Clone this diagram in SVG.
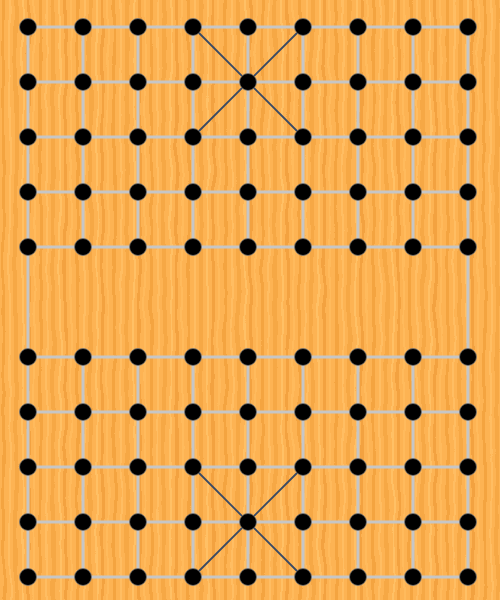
<svg xmlns="http://www.w3.org/2000/svg" width="500" height="600" viewBox="0 0 500 600">
<defs>
<pattern id="wood" patternUnits="userSpaceOnUse" width="37" height="600">
<rect width="37" height="600" fill="#FDB353"/>
<rect x="2" width="3" height="600" fill="#F4A441"/>
<rect x="9" width="2" height="600" fill="#FFBD62"/>
<rect x="14" width="4" height="600" fill="#F6A845"/>
<rect x="22" width="2" height="600" fill="#FFC065"/>
<rect x="27" width="3" height="600" fill="#F3A23F"/>
<rect x="33" width="2" height="600" fill="#FFBA5C"/>
</pattern>
<filter id="grain" x="0" y="0" width="1" height="1">
<feTurbulence type="fractalNoise" baseFrequency="0.04 0.025" numOctaves="2" seed="3" result="n"/>
<feDisplacementMap in="SourceGraphic" in2="n" scale="6" xChannelSelector="R" yChannelSelector="G"/>
</filter>
<style>
.g{stroke:#C6C6C6;stroke-width:3;fill:none;stroke-linecap:square}
.d{stroke:#3A4A64;stroke-width:1.8;fill:none}
.p{fill:#000;stroke:#7A7A7A;stroke-width:0.8}
</style>
</defs>
<rect x="-10" y="-10" width="520" height="620" fill="url(#wood)" filter="url(#grain)"/>
<g id="connectors">
<path class="g" d="M28 27H468M28 82H468M28 137H468M28 192H468M28 247H468M28 357H468M28 412H468M28 467H468M28 522H468M28 577H468"/>
<path class="g" d="M28 27V577M468 27V577M83 27V247M138 27V247M193 27V247M248 27V247M303 27V247M358 27V247M413 27V247M83 357V577M138 357V577M193 357V577M248 357V577M303 357V577M358 357V577M413 357V577"/>
<path class="d" d="M193 27L303 137M303 27L193 137M193 467L303 577M303 467L193 577"/>
</g>
<g id="nodes">
<g id="n0_0"><circle class="p" cx="28" cy="27" r="8.5"/></g>
<g id="n1_0"><circle class="p" cx="83" cy="27" r="8.5"/></g>
<g id="n2_0"><circle class="p" cx="138" cy="27" r="8.5"/></g>
<g id="n3_0"><circle class="p" cx="193" cy="27" r="8.5"/></g>
<g id="n4_0"><circle class="p" cx="248" cy="27" r="8.5"/></g>
<g id="n5_0"><circle class="p" cx="303" cy="27" r="8.5"/></g>
<g id="n6_0"><circle class="p" cx="358" cy="27" r="8.5"/></g>
<g id="n7_0"><circle class="p" cx="413" cy="27" r="8.5"/></g>
<g id="n8_0"><circle class="p" cx="468" cy="27" r="8.5"/></g>
<g id="n0_1"><circle class="p" cx="28" cy="82" r="8.5"/></g>
<g id="n1_1"><circle class="p" cx="83" cy="82" r="8.5"/></g>
<g id="n2_1"><circle class="p" cx="138" cy="82" r="8.5"/></g>
<g id="n3_1"><circle class="p" cx="193" cy="82" r="8.5"/></g>
<g id="n4_1"><circle class="p" cx="248" cy="82" r="8.5"/></g>
<g id="n5_1"><circle class="p" cx="303" cy="82" r="8.5"/></g>
<g id="n6_1"><circle class="p" cx="358" cy="82" r="8.5"/></g>
<g id="n7_1"><circle class="p" cx="413" cy="82" r="8.5"/></g>
<g id="n8_1"><circle class="p" cx="468" cy="82" r="8.5"/></g>
<g id="n0_2"><circle class="p" cx="28" cy="137" r="8.5"/></g>
<g id="n1_2"><circle class="p" cx="83" cy="137" r="8.5"/></g>
<g id="n2_2"><circle class="p" cx="138" cy="137" r="8.5"/></g>
<g id="n3_2"><circle class="p" cx="193" cy="137" r="8.5"/></g>
<g id="n4_2"><circle class="p" cx="248" cy="137" r="8.5"/></g>
<g id="n5_2"><circle class="p" cx="303" cy="137" r="8.5"/></g>
<g id="n6_2"><circle class="p" cx="358" cy="137" r="8.5"/></g>
<g id="n7_2"><circle class="p" cx="413" cy="137" r="8.5"/></g>
<g id="n8_2"><circle class="p" cx="468" cy="137" r="8.5"/></g>
<g id="n0_3"><circle class="p" cx="28" cy="192" r="8.5"/></g>
<g id="n1_3"><circle class="p" cx="83" cy="192" r="8.5"/></g>
<g id="n2_3"><circle class="p" cx="138" cy="192" r="8.5"/></g>
<g id="n3_3"><circle class="p" cx="193" cy="192" r="8.5"/></g>
<g id="n4_3"><circle class="p" cx="248" cy="192" r="8.5"/></g>
<g id="n5_3"><circle class="p" cx="303" cy="192" r="8.5"/></g>
<g id="n6_3"><circle class="p" cx="358" cy="192" r="8.5"/></g>
<g id="n7_3"><circle class="p" cx="413" cy="192" r="8.5"/></g>
<g id="n8_3"><circle class="p" cx="468" cy="192" r="8.5"/></g>
<g id="n0_4"><circle class="p" cx="28" cy="247" r="8.5"/></g>
<g id="n1_4"><circle class="p" cx="83" cy="247" r="8.5"/></g>
<g id="n2_4"><circle class="p" cx="138" cy="247" r="8.5"/></g>
<g id="n3_4"><circle class="p" cx="193" cy="247" r="8.5"/></g>
<g id="n4_4"><circle class="p" cx="248" cy="247" r="8.5"/></g>
<g id="n5_4"><circle class="p" cx="303" cy="247" r="8.5"/></g>
<g id="n6_4"><circle class="p" cx="358" cy="247" r="8.5"/></g>
<g id="n7_4"><circle class="p" cx="413" cy="247" r="8.5"/></g>
<g id="n8_4"><circle class="p" cx="468" cy="247" r="8.5"/></g>
<g id="n0_5"><circle class="p" cx="28" cy="357" r="8.5"/></g>
<g id="n1_5"><circle class="p" cx="83" cy="357" r="8.5"/></g>
<g id="n2_5"><circle class="p" cx="138" cy="357" r="8.5"/></g>
<g id="n3_5"><circle class="p" cx="193" cy="357" r="8.5"/></g>
<g id="n4_5"><circle class="p" cx="248" cy="357" r="8.5"/></g>
<g id="n5_5"><circle class="p" cx="303" cy="357" r="8.5"/></g>
<g id="n6_5"><circle class="p" cx="358" cy="357" r="8.5"/></g>
<g id="n7_5"><circle class="p" cx="413" cy="357" r="8.5"/></g>
<g id="n8_5"><circle class="p" cx="468" cy="357" r="8.5"/></g>
<g id="n0_6"><circle class="p" cx="28" cy="412" r="8.5"/></g>
<g id="n1_6"><circle class="p" cx="83" cy="412" r="8.5"/></g>
<g id="n2_6"><circle class="p" cx="138" cy="412" r="8.5"/></g>
<g id="n3_6"><circle class="p" cx="193" cy="412" r="8.5"/></g>
<g id="n4_6"><circle class="p" cx="248" cy="412" r="8.5"/></g>
<g id="n5_6"><circle class="p" cx="303" cy="412" r="8.5"/></g>
<g id="n6_6"><circle class="p" cx="358" cy="412" r="8.5"/></g>
<g id="n7_6"><circle class="p" cx="413" cy="412" r="8.5"/></g>
<g id="n8_6"><circle class="p" cx="468" cy="412" r="8.5"/></g>
<g id="n0_7"><circle class="p" cx="28" cy="467" r="8.5"/></g>
<g id="n1_7"><circle class="p" cx="83" cy="467" r="8.5"/></g>
<g id="n2_7"><circle class="p" cx="138" cy="467" r="8.5"/></g>
<g id="n3_7"><circle class="p" cx="193" cy="467" r="8.5"/></g>
<g id="n4_7"><circle class="p" cx="248" cy="467" r="8.5"/></g>
<g id="n5_7"><circle class="p" cx="303" cy="467" r="8.5"/></g>
<g id="n6_7"><circle class="p" cx="358" cy="467" r="8.5"/></g>
<g id="n7_7"><circle class="p" cx="413" cy="467" r="8.5"/></g>
<g id="n8_7"><circle class="p" cx="468" cy="467" r="8.5"/></g>
<g id="n0_8"><circle class="p" cx="28" cy="522" r="8.5"/></g>
<g id="n1_8"><circle class="p" cx="83" cy="522" r="8.5"/></g>
<g id="n2_8"><circle class="p" cx="138" cy="522" r="8.5"/></g>
<g id="n3_8"><circle class="p" cx="193" cy="522" r="8.5"/></g>
<g id="n4_8"><circle class="p" cx="248" cy="522" r="8.5"/></g>
<g id="n5_8"><circle class="p" cx="303" cy="522" r="8.5"/></g>
<g id="n6_8"><circle class="p" cx="358" cy="522" r="8.5"/></g>
<g id="n7_8"><circle class="p" cx="413" cy="522" r="8.5"/></g>
<g id="n8_8"><circle class="p" cx="468" cy="522" r="8.5"/></g>
<g id="n0_9"><circle class="p" cx="28" cy="577" r="8.5"/></g>
<g id="n1_9"><circle class="p" cx="83" cy="577" r="8.5"/></g>
<g id="n2_9"><circle class="p" cx="138" cy="577" r="8.5"/></g>
<g id="n3_9"><circle class="p" cx="193" cy="577" r="8.5"/></g>
<g id="n4_9"><circle class="p" cx="248" cy="577" r="8.5"/></g>
<g id="n5_9"><circle class="p" cx="303" cy="577" r="8.5"/></g>
<g id="n6_9"><circle class="p" cx="358" cy="577" r="8.5"/></g>
<g id="n7_9"><circle class="p" cx="413" cy="577" r="8.5"/></g>
<g id="n8_9"><circle class="p" cx="468" cy="577" r="8.5"/></g>
</g>
</svg>
